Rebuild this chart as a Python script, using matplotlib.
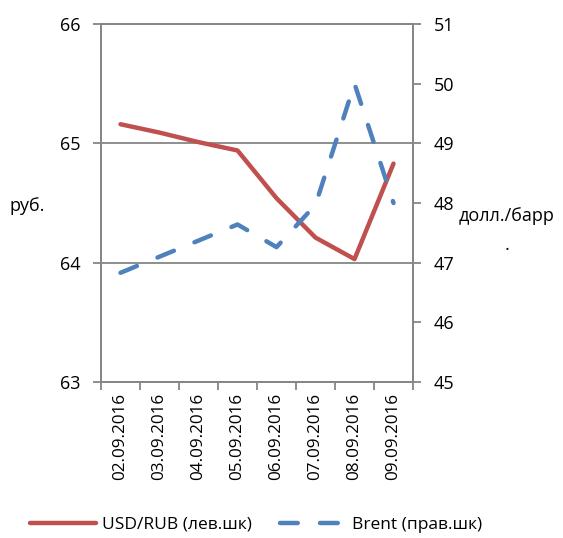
import matplotlib
matplotlib.use("Agg")
import matplotlib.pyplot as plt
import numpy as np

plt.rcParams['font.family'] = ['Open Sans', 'DejaVu Sans']

dates = ["02.09.2016", "03.09.2016", "04.09.2016", "05.09.2016",
         "06.09.2016", "07.09.2016", "08.09.2016", "09.09.2016"]
usd_rub = [65.16, 65.09, 65.01, 64.94, 64.54, 64.21, 64.03, 64.83]
brent = [46.83, 47.10, 47.37, 47.64, 47.26, 47.97, 50.0, 48.0]

left_ticks = [63, 64, 65, 66]
right_ticks = [45, 46, 47, 48, 49, 50, 51]

gray = "#868686"
red = "#C0504D"
blue = "#4F81BD"

fig = plt.figure(figsize=(5.63, 5.38), dpi=100)
ax = fig.add_axes([0.1794, 0.29, 0.7336 - 0.1794, 0.9554 - 0.29])
ax2 = ax.twinx()

x = np.arange(len(dates))
l1, = ax.plot(x, usd_rub, color=red, lw=3.2, solid_capstyle='round', label="USD/RUB (лев.шк)", zorder=3)
l2, = ax2.plot(x, brent, color=blue, lw=3.2, dashes=(4, 5), dash_capstyle='round', label="Brent (прав.шк)", zorder=3)

ax.set_xlim(-0.5, len(dates) - 0.5)
ax.set_ylim(63, 66)
ax2.set_ylim(45, 51)
ax.set_yticks(left_ticks)
ax2.set_yticks(right_ticks)
ax.set_xticks(x)
ax.set_xticklabels(dates, rotation=90, fontsize=12.3)
ax.set_xticks(np.arange(-0.5, len(dates)), minor=True)
ax.tick_params(axis='x', which='major', length=0, pad=8)
ax.tick_params(axis='x', which='minor', length=6, color=gray, width=1.3, direction='out')
ax.tick_params(axis='y', length=6, color=gray, width=1.3, direction='out', labelsize=13, pad=9)
ax2.tick_params(axis='y', length=6, color=gray, width=1.3, direction='out', labelsize=13, pad=9)

for a in (ax, ax2):
    for s in a.spines.values():
        s.set_color(gray)
        s.set_linewidth(1.3)
ax.grid(axis='y', color=gray, lw=1.3)
ax.set_axisbelow(True)

fig.text(0.017, 0.618, "руб.", fontsize=13, ha='left', va='center')
fig.text(0.900, 0.598, "долл./барр", fontsize=13, ha='center', va='center')
fig.text(0.900, 0.545, ".", fontsize=13, ha='center', va='center')

fig.legend(handles=[l1, l2], loc='center', bbox_to_anchor=(0.455, 0.025), ncol=2, frameon=False,
           fontsize=12.5, handlelength=3.8, columnspacing=1.6, handletextpad=0.35)

fig.savefig("out.png", dpi=100)
